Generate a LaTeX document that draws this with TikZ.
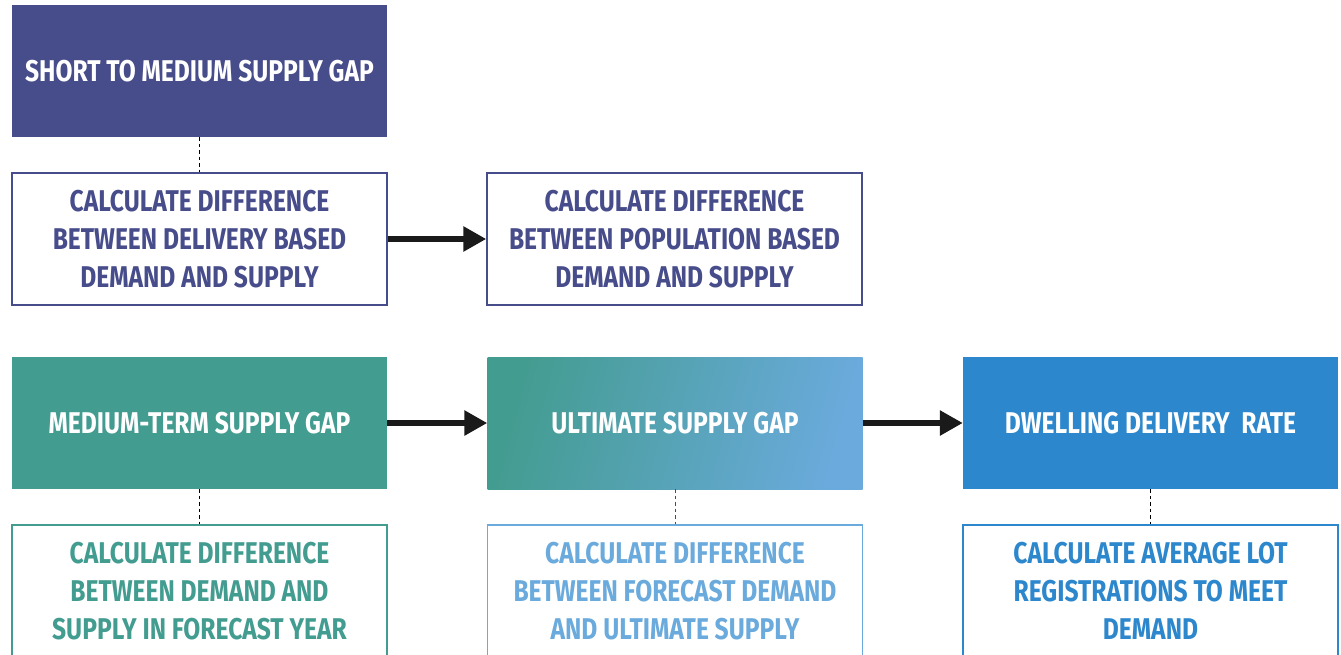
\documentclass[tikz,border=0pt]{standalone}
\usepackage{fontspec}
\setmainfont{Fira Sans}[FakeStretch=0.82]
\usetikzlibrary{arrows.meta}
\definecolor{cpurple}{RGB}{71,76,138}
\definecolor{cteal}{RGB}{67,156,144}
\definecolor{clight}{RGB}{106,170,220}
\definecolor{cblue}{RGB}{45,135,204}
\definecolor{carrow}{RGB}{26,26,26}
\tikzset{
  boxbase/.style={rectangle, minimum width=375pt, inner sep=0pt, align=center,
    font=\fontsize{30}{38}\selectfont\bfseries},
  headbox/.style={boxbase, minimum height=132pt, text=white},
  subbox/.style={boxbase, minimum height=132pt, fill=white, line width=1.5pt},
  flowarrow/.style={line width=6pt, carrow, -{Triangle[length=23pt,width=24pt]}},
  linkline/.style={line width=0.9pt, dash pattern=on 3.5pt off 3pt}
}
\begin{document}
\begin{tikzpicture}[x=1pt,y=-1pt]
\useasboundingbox (0,0) rectangle (1341,654);
\clip (0,0) rectangle (1341,654);
% row 1
\node[headbox, fill=cpurple] (h1) at (199.5,71) {SHORT TO MEDIUM SUPPLY GAP};
\node[subbox, draw=cpurple, text=cpurple] (s1) at (199.5,239)
  {CALCULATE DIFFERENCE\\BETWEEN DELIVERY BASED\\DEMAND AND SUPPLY};
\node[subbox, draw=cpurple, text=cpurple] (s2) at (674.5,239)
  {CALCULATE DIFFERENCE\\BETWEEN POPULATION BASED\\DEMAND AND SUPPLY};
% row 2
\node[headbox, fill=cteal] (h2) at (199.5,423) {MEDIUM-TERM SUPPLY GAP};
\node[headbox, left color=cteal, right color=clight, shading angle=75] (h3) at (675,423) {ULTIMATE SUPPLY GAP};
\node[headbox, fill=cblue] (h4) at (1150.5,423) {DWELLING DELIVERY~ RATE};
\node[subbox, draw=cteal, text=cteal] (s3) at (199.5,591)
  {CALCULATE DIFFERENCE\\BETWEEN DEMAND AND\\SUPPLY IN FORECAST YEAR};
\node[subbox, draw=clight, text=clight] (s4) at (675,591)
  {CALCULATE DIFFERENCE\\BETWEEN FORECAST DEMAND\\AND ULTIMATE SUPPLY};
\node[subbox, draw=cblue, text=cblue] (s5) at (1150.5,591)
  {CALCULATE AVERAGE LOT\\REGISTRATIONS TO MEET\\DEMAND};
% connectors
\draw[flowarrow] (s1.east) -- (s2.west);
\draw[flowarrow] (h2.east) -- (h3.west);
\draw[flowarrow] (h3.east) -- (h4.west);
\draw[linkline, black] (h1.south) -- (s1.north);
\draw[linkline, black] (h2.south) -- (s3.north);
\draw[linkline, black!70] (h3.south) -- (s4.north);
\draw[linkline, black] (h4.south) -- (s5.north);
\end{tikzpicture}
\end{document}
